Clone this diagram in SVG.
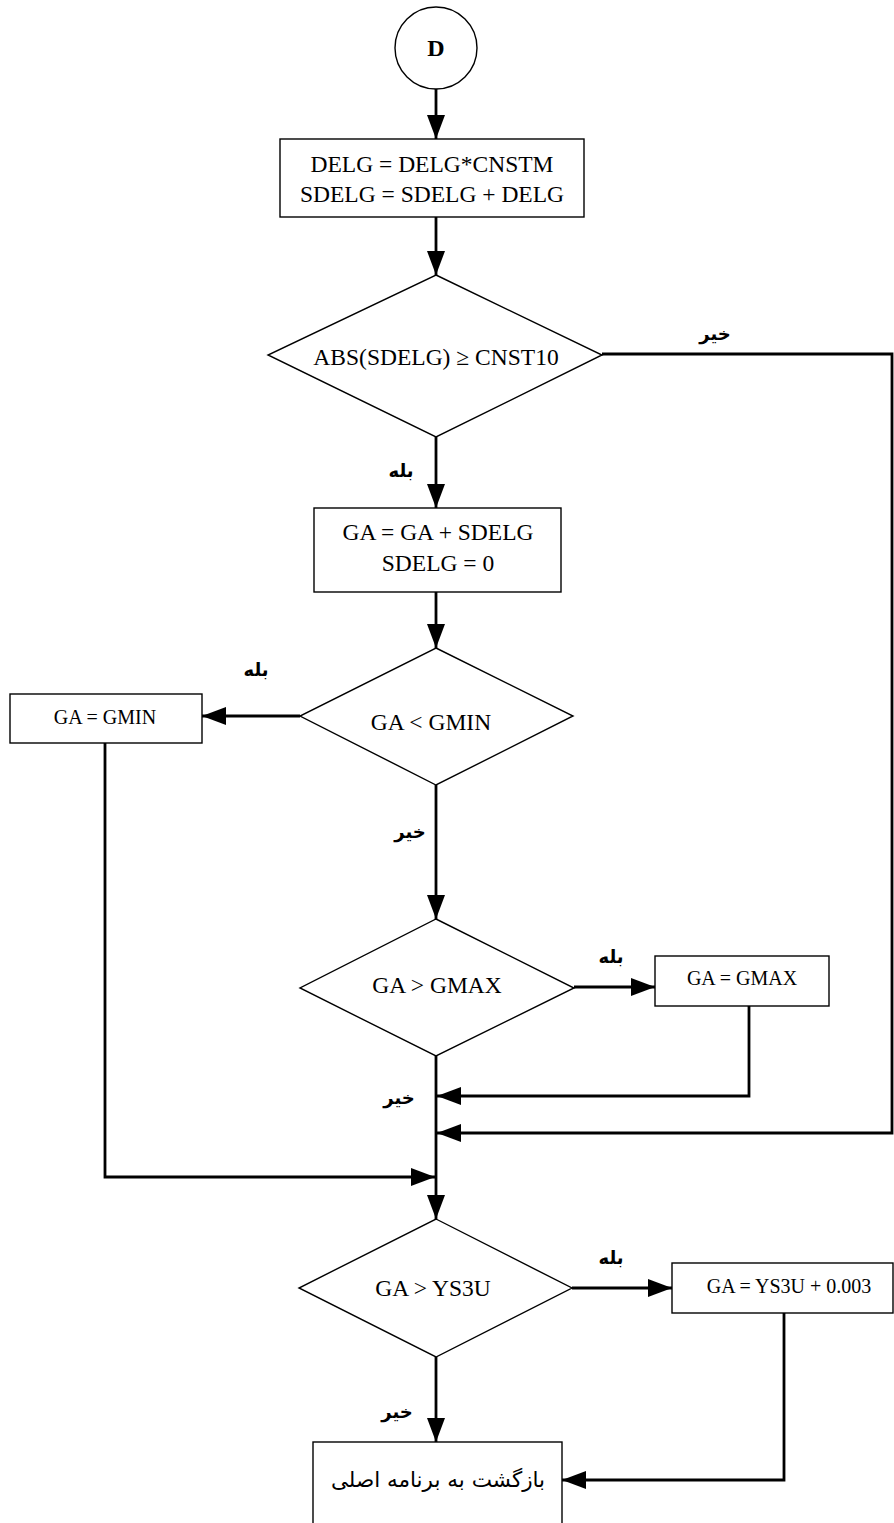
<svg xmlns="http://www.w3.org/2000/svg" width="894" height="1523" viewBox="0 0 894 1523">
<style>
.shape{fill:#fff;stroke:#000;stroke-width:1.4}
.conn{fill:none;stroke:#000;stroke-width:2.8}
.t{font-family:"Liberation Serif","Times New Roman",serif;font-size:23.5px;text-anchor:middle;fill:#000}
.ts{font-family:"Liberation Serif","Times New Roman",serif;font-size:20px;text-anchor:middle;fill:#000}
.fa{font-family:"DejaVu Sans",sans-serif;font-size:18px;font-weight:bold;text-anchor:middle;fill:#000}
.fam{font-family:"DejaVu Sans",sans-serif;font-size:21.5px;text-anchor:middle;fill:#000}
.d{font-family:"Liberation Serif","Times New Roman",serif;font-size:24px;font-weight:bold;text-anchor:middle;fill:#000}
</style>
<defs>
<marker id="arr" markerUnits="userSpaceOnUse" markerWidth="24" markerHeight="18" refX="24" refY="9" orient="auto">
<path d="M0,0 L24,9 L0,18 z" fill="#000"/>
</marker>
</defs>
<rect width="894" height="1523" fill="#fff"/>
<g id="connectors">
<line class="conn" x1="436" y1="89" x2="436" y2="139" marker-end="url(#arr)"/>
<line class="conn" x1="436" y1="217" x2="436" y2="275" marker-end="url(#arr)"/>
<line class="conn" x1="436" y1="437" x2="436" y2="508" marker-end="url(#arr)"/>
<line class="conn" x1="436" y1="592" x2="436" y2="648" marker-end="url(#arr)"/>
<line class="conn" x1="300" y1="716" x2="202" y2="716" marker-end="url(#arr)"/>
<line class="conn" x1="436" y1="785" x2="436" y2="919" marker-end="url(#arr)"/>
<line class="conn" x1="574" y1="987" x2="655" y2="987" marker-end="url(#arr)"/>
<line class="conn" x1="436" y1="1056" x2="436" y2="1219" marker-end="url(#arr)"/>
<polyline class="conn" points="749,1006 749,1096 437,1096" marker-end="url(#arr)"/>
<polyline class="conn" points="602,354 892,354 892,1133 437,1133" marker-end="url(#arr)"/>
<polyline class="conn" points="105,743 105,1177 435,1177" marker-end="url(#arr)"/>
<line class="conn" x1="572" y1="1288" x2="672" y2="1288" marker-end="url(#arr)"/>
<polyline class="conn" points="784,1313 784,1480 562,1480" marker-end="url(#arr)"/>
<line class="conn" x1="436" y1="1357" x2="436" y2="1442" marker-end="url(#arr)"/>
<text class="fa" x="715" y="340">خیر</text>
<text class="fa" x="401" y="477">بله</text>
<text class="fa" x="256" y="676">بله</text>
<text class="fa" x="410" y="838">خیر</text>
<text class="fa" x="611" y="963">بله</text>
<text class="fa" x="399" y="1104">خیر</text>
<text class="fa" x="611" y="1264">بله</text>
<text class="fa" x="397" y="1418">خیر</text>
</g>
<g id="start">
<circle class="shape" cx="436" cy="48" r="41"/>
<text class="d" x="436" y="56">D</text>
</g>
<g id="box1">
<rect class="shape" x="280" y="139" width="304" height="78"/>
<text class="t" x="432" y="172">DELG = DELG*CNSTM</text>
<text class="t" x="432" y="202">SDELG = SDELG + DELG</text>
</g>
<g id="dec1">
<polygon class="shape" points="436,275 602,355 436,437 268,355"/>
<text class="t" x="436" y="365">ABS(SDELG) ≥ CNST10</text>
</g>
<g id="box2">
<rect class="shape" x="314" y="508" width="247" height="84"/>
<text class="t" x="438" y="540">GA = GA + SDELG</text>
<text class="t" x="438" y="571">SDELG = 0</text>
</g>
<g id="dec2">
<polygon class="shape" points="436,648 573,716 436,785 300,716"/>
<text class="t" x="431" y="730">GA &lt; GMIN</text>
</g>
<g id="box3">
<rect class="shape" x="10" y="694" width="192" height="49"/>
<text class="ts" x="105" y="724">GA = GMIN</text>
</g>
<g id="dec3">
<polygon class="shape" points="436,919 574,988 436,1056 300,988"/>
<text class="t" x="437" y="993">GA &gt; GMAX</text>
</g>
<g id="box4">
<rect class="shape" x="655" y="956" width="174" height="50"/>
<text class="ts" x="742" y="985">GA = GMAX</text>
</g>
<g id="dec4">
<polygon class="shape" points="436,1219 572,1288 436,1357 299,1288"/>
<text class="t" x="433" y="1296">GA &gt; YS3U</text>
</g>
<g id="box5">
<rect class="shape" x="672" y="1263" width="221" height="50"/>
<text class="ts" x="789" y="1293">GA = YS3U + 0.003</text>
</g>
<g id="end">
<rect class="shape" x="313" y="1442" width="249" height="100"/>
<text class="fam" x="438" y="1487">بازگشت به برنامه اصلی</text>
</g>
</svg>
